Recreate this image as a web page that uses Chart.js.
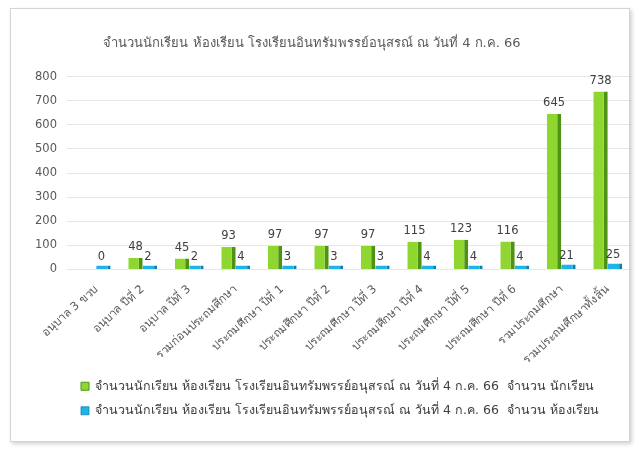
<!DOCTYPE html>
<html><head><meta charset="utf-8">
<script src="https://cdn.jsdelivr.net/npm/chart.js@4"></script>
<style>
html,body{margin:0;padding:0;background:#fff;}
#wrap{position:relative;width:639px;height:450px;}
#frame{position:absolute;left:10px;top:8px;width:618px;height:432px;border:1px solid #d4d4d4;box-shadow:2px 2px 4px rgba(0,0,0,0.18);pointer-events:none;}
canvas{position:absolute;left:0;top:0;}
</style></head>
<body>
<div id="wrap"><canvas id="c" width="639" height="450"></canvas><div id="frame"></div></div>
<script>
const titleText = "จำนวนนักเรียน ห้องเรียน โรงเรียนอินทรัมพรรย์อนุสรณ์ ณ วันที่ 4 ก.ค. 66";
const categories = ["อนุบาล 3 ขวบ","อนุบาล ปีที่ 2","อนุบาล ปีที่ 3","รวมก่อนประถมศึกษา","ประถมศึกษา ปีที่ 1","ประถมศึกษา ปีที่ 2","ประถมศึกษา ปีที่ 3","ประถมศึกษา ปีที่ 4","ประถมศึกษา ปีที่ 5","ประถมศึกษา ปีที่ 6","รวมประถมศึกษา","รวมประถมศึกษาทั้งสิ้น"];
const seriesNames = [titleText + "  จำนวน นักเรียน", titleText + "  จำนวน ห้องเรียน"];
const students = [null,48,45,93,97,97,97,115,123,116,645,738];
const rooms = [0,2,2,4,3,3,3,4,4,4,21,25];
const yTicks = [0,100,200,300,400,500,600,700,800];

const FONT = 'Tahoma, "DejaVu Sans", "Noto Sans", sans-serif';
const TXT = '#595959';

const valueLabels = {
  id:'valueLabels',
  afterDatasetsDraw(chart){
    const ctx = chart.ctx;
    ctx.save();
    ctx.font = '11.5px ' + FONT;
    ctx.fillStyle = '#404040';
    ctx.textAlign = 'center';
    ctx.textBaseline = 'bottom';
    chart.data.datasets.forEach((ds,i)=>{
      const meta = chart.getDatasetMeta(i);
      meta.data.forEach((bar,j)=>{
        const v = ds.data[j];
        if(v===null||v===undefined) return;
        ctx.fillText(String(v), bar.x - (i===1?2:0), bar.y - (i===1?3:5));
      });
    });
    ctx.restore();
  }
};
const shiftBlocks = {
  id:'shiftBlocks',
  afterLayout(chart){
    if(chart.legend){ chart.legend.left += 44; chart.legend.right += 44; chart.legend.top -= 4; chart.legend.bottom -= 4; }
    if(chart.titleBlock){ chart.titleBlock.left -= 16; chart.titleBlock.right -= 16; }
  }
};

new Chart(document.getElementById('c'), {
  type:'bar',
  data:{
    labels: categories,
    datasets:[
      {label: seriesNames[0], data: students, backgroundColor:'#8fd631', borderColor:'#4d9414',
       borderWidth:{top:0,left:0,right:4,bottom:0}, borderSkipped:false},
      {label: seriesNames[1], data: rooms, backgroundColor:'#1db4e8', borderColor:'#0b7fb3',
       borderWidth:{top:0,left:0,right:3,bottom:0}, borderSkipped:false, minBarLength:4}
    ]
  },
  options:{
    responsive:false, animation:false,
    layout:{padding:{left:25,right:8,top:0,bottom:19}},
    datasets:{bar:{barPercentage:1.0, categoryPercentage:0.62}},
    scales:{
      x:{
        grid:{display:false}, border:{display:false},
        ticks:{color:TXT, font:{family:FONT,size:11.5}, minRotation:42, maxRotation:42, padding:5}
      },
      y:{
        min:0, max:800,
        afterBuildTicks(axis){ axis.ticks = yTicks.map(v=>({value:v})); },
        grid:{color:'#e6e6e6', drawTicks:true, tickLength:6, tickColor:'#e6e6e6'}, border:{display:false},
        ticks:{color:TXT, font:{family:FONT,size:11.5}, padding:10}
      }
    },
    plugins:{
      title:{display:true, text:titleText, color:TXT, font:{family:FONT,size:13,weight:'normal'}, padding:{top:36,bottom:25}},
      legend:{position:'bottom', align:'start',
        labels:{color:'#404040', font:{family:FONT,size:12.5}, boxWidth:8, boxHeight:8, padding:12}},
      tooltip:{enabled:false}
    }
  },
  plugins:[valueLabels, shiftBlocks]
});
</script>
</body></html>
